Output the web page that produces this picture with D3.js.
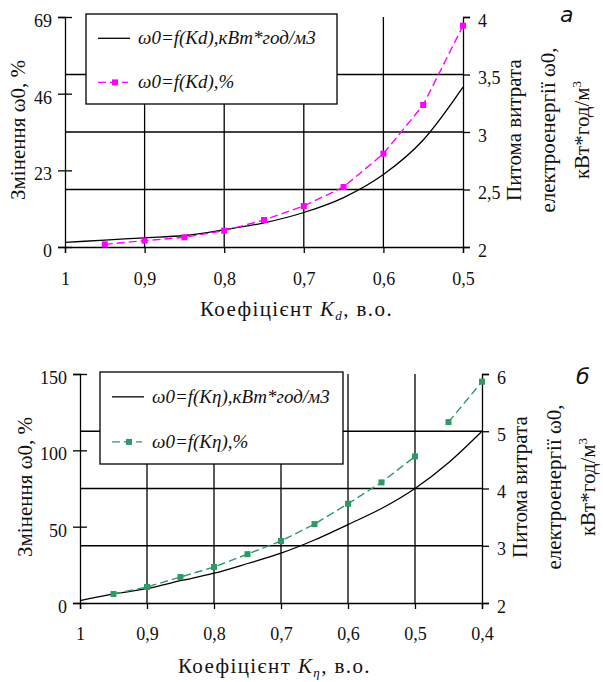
<!DOCTYPE html>
<meta charset="utf-8">
<script src="https://d3js.org/d3.v7.min.js"></script>
<style>
body { margin: 0; background: #fff; }
text { font-family: "Liberation Serif", "DejaVu Serif", serif; fill: #111; }
.domain, .tick line { stroke: #000; stroke-width: 1.3; }
</style>
<body>
<svg width="603" height="682"></svg>
<script>
// ---- chart а : coefficient Kd ----
var kdX       = [1, 0.95, 0.9, 0.85, 0.8, 0.75, 0.7, 0.65, 0.6, 0.55, 0.5];
var kdEnergy  = [2.04, 2.06, 2.08, 2.10, 2.15, 2.21, 2.30, 2.43, 2.63, 2.93, 3.39];
var kdPctX    = [0.95, 0.9, 0.85, 0.8, 0.75, 0.7, 0.65, 0.6, 0.55, 0.5];
var kdPct     = [0.8, 1.9, 2.9, 4.9, 8.1, 12.3, 18, 28, 42.6, 66.4];
var kdTicks   = [1, 0.9, 0.8, 0.7, 0.6, 0.5];
var kdLeft    = [0, 23, 46, 69];
var kdRight   = [2, 2.5, 3, 3.5, 4];

// ---- chart б : coefficient Kη ----
var keX       = [1, 0.95, 0.9, 0.85, 0.8, 0.75, 0.7, 0.65, 0.6, 0.55, 0.5, 0.45, 0.4];
var keEnergy  = [2.04, 2.16, 2.25, 2.39, 2.52, 2.69, 2.87, 3.10, 3.37, 3.65, 4.00, 4.45, 5.00];
var kePctX    = [0.95, 0.9, 0.85, 0.8, 0.75, 0.7, 0.65, 0.6, 0.55, 0.5, 0.45, 0.4];
var kePct     = [5.9, 10.5, 17, 23.6, 32, 40.6, 51.7, 65, 79, 96, 118.5, 145];
var keBreak   = 0.5;   // the dashed line is interrupted after this point
var keTicks   = [1, 0.9, 0.8, 0.7, 0.6, 0.5, 0.4];
var keLeft    = [0, 50, 100, 150];
var keRight   = [2, 3, 4, 5, 6];

var svg = d3.select('svg');
var comma = function(d){ return String(d).replace('.', ','); };

function drawChart(c){
  var g = svg.append('g');
  var x  = d3.scaleLinear().domain(c.xDomain).range([c.left, c.right]);
  var yL = d3.scaleLinear().domain(c.lDomain).range([c.bottom, c.top]);
  var yR = d3.scaleLinear().domain(c.rDomain).range([c.bottom, c.top]);

  // grid
  g.selectAll('line.vg').data(c.xTicks.slice(1, -1)).enter().append('line')
    .attr('x1', x).attr('x2', x).attr('y1', c.top).attr('y2', c.bottom)
    .attr('stroke', '#000').attr('stroke-width', 1.3);
  g.selectAll('line.hg').data(c.rTicks.slice(1, -1)).enter().append('line')
    .attr('x1', c.left).attr('x2', c.right)
    .attr('y1', yR).attr('y2', yR)
    .attr('stroke', '#000').attr('stroke-width', 1.3);

  // axes
  var ax = g.append('g').attr('transform', 'translate(0,' + c.bottom + ')')
    .call(d3.axisBottom(x).tickValues(c.xTicks).tickSizeOuter(0).tickSize(6).tickFormat(comma));
  ax.selectAll('text').attr('dy', 0).attr('y', c.xLabDy).style('font-size', '18px');

  var al = g.append('g').attr('transform', 'translate(' + c.left + ',0)')
    .call(d3.axisLeft(yL).tickValues(c.lTicks).tickSizeOuter(0).tickSize(7).tickPadding(6));
  al.selectAll('.tick line').attr('x2', 7).attr('x1', -7);
  al.selectAll('text').attr('dy', '0.52em').style('font-size', '18px');

  var ar = g.append('g').attr('transform', 'translate(' + c.right + ',0)')
    .call(d3.axisRight(yR).tickValues(c.rTicks).tickSizeOuter(0).tickSize(7).tickPadding(8).tickFormat(comma));
  ar.selectAll('text').attr('dy', '0.5em').style('font-size', '18px');
  g.selectAll('.domain').attr('fill', 'none');

  // legend
  var lg = g.append('g');
  lg.append('rect').attr('x', c.lgX).attr('y', c.lgY).attr('width', c.lgW).attr('height', c.lgH)
    .attr('fill', '#fff').attr('stroke', '#000').attr('stroke-width', 1.3);
  var r1 = c.lgY + c.lgH * 0.27, r2 = c.lgY + c.lgH * 0.76;
  lg.append('line').attr('x1', c.lgX + 12).attr('x2', c.lgX + 44).attr('y1', r1).attr('y2', r1)
    .attr('stroke', '#000').attr('stroke-width', 1.3);
  lg.append('line').attr('x1', c.lgX + 12).attr('x2', c.lgX + 42).attr('y1', r2).attr('y2', r2)
    .attr('stroke', c.color).attr('stroke-width', 1.4).attr('stroke-dasharray', '8,4');
  lg.append('rect').attr('x', c.lgX + 26).attr('y', r2 - 3).attr('width', 6).attr('height', 6).attr('fill', c.color);
  lg.append('text').attr('x', c.lgX + 52).attr('y', r1 + 6).style('font-size', '19px').style('font-style', 'italic')
    .text('ω0=f(' + c.key + '),кВт*год/м3');
  lg.append('text').attr('x', c.lgX + 52).attr('y', r2 + 6).style('font-size', '19px').style('font-style', 'italic')
    .text('ω0=f(' + c.key + '),%');

  // energy curve (right axis)
  var ln = d3.line().x(function(d){ return x(d[0]); }).y(function(d){ return yR(d[1]); }).curve(d3.curveMonotoneX);
  g.append('path').datum(d3.zip(c.eX, c.eY)).attr('d', ln)
    .attr('fill', 'none').attr('stroke', '#000').attr('stroke-width', 1.3);

  // percent curve (left axis)
  var pts = d3.zip(c.pX, c.pY);
  var lp = d3.line().x(function(d){ return x(d[0]); }).y(function(d){ return yL(d[1]); });
  var segs = [];
  if (c.pBreak != null) {
    segs.push(pts.filter(function(d){ return d[0] >= c.pBreak; }));
    segs.push(pts.filter(function(d){ return d[0] < c.pBreak; }));
  } else segs.push(pts);
  g.selectAll('path.pct').data(segs).enter().append('path')
    .attr('d', lp).attr('fill', 'none').attr('stroke', c.color).attr('stroke-width', 1.4)
    .attr('stroke-dasharray', '8,4');
  g.selectAll('rect.mk').data(pts).enter().append('rect')
    .attr('x', function(d){ return x(d[0]) - 3; }).attr('y', function(d){ return yL(d[1]) - 3; })
    .attr('width', 6).attr('height', 6).attr('fill', c.color);

  // titles
  var xt = g.append('text').attr('x', c.xTitleX).attr('y', c.xTitleY).style('font-size', '21px')
    .style('letter-spacing', '1.4px');
  xt.append('tspan').text('Коефіцієнт ');
  xt.append('tspan').style('font-style', 'italic').text('K');
  xt.append('tspan').style('font-style', 'italic').style('font-size', '13px').attr('dy', 4).text(c.sub);
  xt.append('tspan').attr('dy', -4).text(', в.о.');

  g.append('text').attr('transform', 'translate(' + c.lTitleX + ',' + c.titleY + ') rotate(-90)')
    .attr('text-anchor', 'middle').style('font-size', '21px').text('Змінення ω0, %');

  var rLines = ['Питома витрата', 'електроенергії ω0,', 'кВт*год/м'];
  rLines.forEach(function(s, i){
    var t = g.append('text').attr('transform', 'translate(' + (c.rTitleX + i * 34) + ',' + c.titleY + ') rotate(-90)')
      .attr('text-anchor', 'middle').style('font-size', '21px').text(s);
    if (i == 2) t.append('tspan').attr('dy', -8).style('font-size', '13px').text('3');
  });

  g.append('text').attr('x', c.tagX).attr('y', c.tagY).style('font-size', '22px').style('font-style', 'italic')
    .style('font-family', 'DejaVu Sans').text(c.tag);
}

drawChart({
  xDomain: [1, 0.5], lDomain: [0, 69], rDomain: [2, 4],
  left: 65, right: 463, top: 17, bottom: 247,
  xTicks: kdTicks, lTicks: kdLeft, rTicks: kdRight, xLabDy: 38,
  eX: kdX, eY: kdEnergy, pX: kdPctX, pY: kdPct, pBreak: null,
  color: '#ff00ff', key: 'Kd', sub: 'd',
  lgX: 86, lgY: 14, lgW: 251, lgH: 90,
  xTitleX: 200, xTitleY: 316, lTitleX: 25, rTitleX: 521, titleY: 130,
  tag: 'а', tagX: 560, tagY: 22
});

drawChart({
  xDomain: [1, 0.4], lDomain: [0, 150], rDomain: [2, 6],
  left: 80, right: 482, top: 374, bottom: 603,
  xTicks: keTicks, lTicks: keLeft, rTicks: keRight, xLabDy: 37,
  eX: keX, eY: keEnergy, pX: kePctX, pY: kePct, pBreak: keBreak,
  color: '#2f9a68', key: 'Kη', sub: 'η',
  lgX: 100, lgY: 372, lgW: 243, lgH: 92,
  xTitleX: 178, xTitleY: 673, lTitleX: 32, rTitleX: 527, titleY: 487,
  tag: 'б', tagX: 576, tagY: 384
});
</script>
</body>
